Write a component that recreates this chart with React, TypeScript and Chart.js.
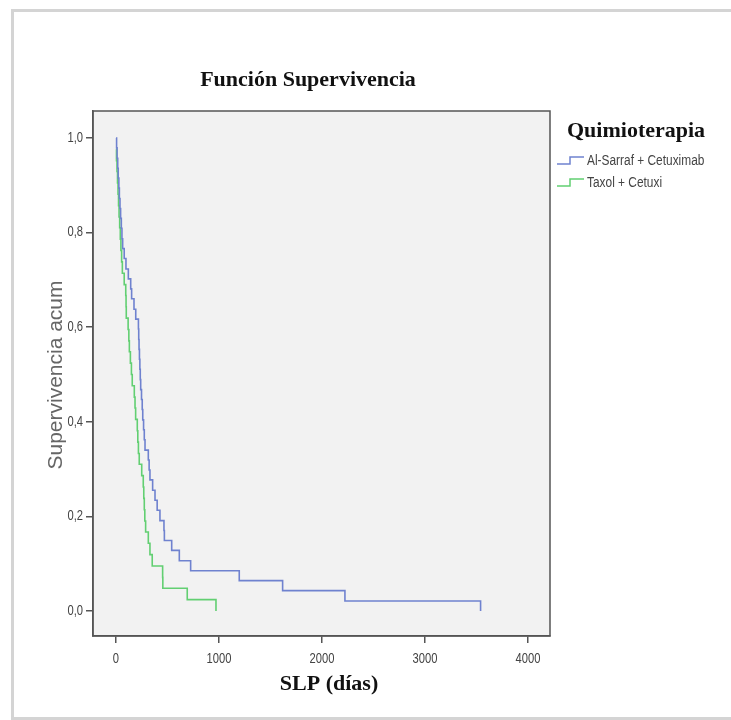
import React, { useEffect, useRef } from 'react';
import { Chart, registerables } from 'chart.js';

Chart.register(...registerables);

const chartTitle = 'Función Supervivencia';
const xTitle = 'SLP (días)';
const yTitle = 'Supervivencia acum';
const legendTitle = 'Quimioterapia';
const seriesNames = ['Al-Sarraf + Cetuximab', 'Taxol + Cetuxi'];
const seriesColors = ['#6f82cf', '#62cf72'];

const xTicks = [0, 1000, 2000, 3000, 4000];
const yTicks = [0, 0.2, 0.4, 0.6, 0.8, 1.0];

// Al-Sarraf + Cetuximab (time in days, cumulative survival after event)
const blueTimes = [0, 6, 11, 17, 22, 28, 33, 39, 45, 52, 58, 65, 80, 97, 120, 143, 152, 175, 192, 218, 221, 224, 228, 232, 236, 240, 248, 255, 260, 268, 275, 282, 314, 322, 330, 356, 379, 400, 427, 466, 470, 541, 615, 725, 1197, 1618, 2223, 3540];
const blueSurv = [1.0, 0.979, 0.957, 0.936, 0.915, 0.894, 0.872, 0.851, 0.83, 0.809, 0.787, 0.766, 0.745, 0.723, 0.702, 0.681, 0.66, 0.638, 0.617, 0.596, 0.574, 0.553, 0.532, 0.511, 0.489, 0.468, 0.447, 0.426, 0.404, 0.383, 0.362, 0.34, 0.319, 0.298, 0.277, 0.255, 0.234, 0.213, 0.191, 0.17, 0.149, 0.128, 0.106, 0.085, 0.064, 0.043, 0.021, 0.0];

// Taxol + Cetuxi
const greenTimes = [0, 5, 10, 15, 20, 25, 30, 36, 42, 48, 55, 62, 80, 95, 98, 100, 118, 125, 130, 140, 150, 158, 178, 185, 191, 207, 212, 218, 226, 250, 265, 270, 275, 280, 288, 314, 330, 352, 453, 455, 692, 971];
const greenSurv = [0.976, 0.952, 0.929, 0.905, 0.881, 0.857, 0.833, 0.81, 0.786, 0.762, 0.738, 0.714, 0.69, 0.667, 0.643, 0.619, 0.595, 0.571, 0.548, 0.524, 0.5, 0.476, 0.452, 0.429, 0.405, 0.381, 0.357, 0.333, 0.31, 0.286, 0.262, 0.238, 0.214, 0.19, 0.167, 0.143, 0.119, 0.095, 0.071, 0.048, 0.024, 0.0];

const SANS = "'Liberation Sans', Arial, sans-serif";
const SERIF = "'Liberation Serif', 'Times New Roman', serif";

function narrowText(ctx: any, text: string, x: number, y: number, sx: number, align: string) {
  ctx.save();
  ctx.translate(x, y);
  ctx.scale(sx, 1);
  ctx.textAlign = align;
  ctx.fillText(text, 0, 0);
  ctx.restore();
}

const decorPlugin = {
  id: 'decor',
  beforeDraw(chart: any) {
    const { ctx, chartArea: a, width, height } = chart;
    ctx.save();
    ctx.fillStyle = '#ffffff';
    ctx.fillRect(0, 0, width, height);
    // outer frame
    ctx.strokeStyle = '#d4d4d4';
    ctx.lineWidth = 3;
    ctx.beginPath();
    ctx.moveTo(width + 2, 10.5);
    ctx.lineTo(12.5, 10.5);
    ctx.lineTo(12.5, 718.5);
    ctx.lineTo(width + 2, 718.5);
    ctx.stroke();
    // plot background
    ctx.fillStyle = '#f2f2f2';
    ctx.fillRect(a.left, a.top, a.right - a.left, a.bottom - a.top);
    ctx.restore();
  },
  afterDraw(chart: any) {
    const { ctx, chartArea: a } = chart;
    ctx.save();
    // plot frame
    ctx.strokeStyle = '#555555';
    ctx.lineWidth = 1.5;
    ctx.strokeRect(a.left, a.top, a.right - a.left, a.bottom - a.top);

    // tick labels (condensed)
    ctx.fillStyle = '#444444';
    ctx.font = `14px ${SANS}`;
    ctx.textBaseline = 'middle';
    const xs = chart.scales.x;
    const ys = chart.scales.y;
    xTicks.forEach((v) => {
      narrowText(ctx, String(v), xs.getPixelForValue(v), 659, 0.8, 'center');
    });
    yTicks.forEach((v) => {
      narrowText(ctx, v.toFixed(1).replace('.', ','), 83, ys.getPixelForValue(v), 0.8, 'right');
    });

    // title
    ctx.fillStyle = '#111111';
    ctx.textAlign = 'center';
    ctx.textBaseline = 'middle';
    ctx.font = `bold 22px ${SERIF}`;
    ctx.fillText(chartTitle, 308, 80);

    // x title
    ctx.font = `bold 22px ${SERIF}`;
    ctx.fillText(xTitle, 329, 684);

    // y title
    ctx.save();
    ctx.translate(56, 375);
    ctx.rotate(-Math.PI / 2);
    ctx.fillStyle = '#666666';
    ctx.font = `21px ${SANS}`;
    ctx.fillText(yTitle, 0, 0);
    ctx.restore();

    // legend
    ctx.textAlign = 'left';
    ctx.fillStyle = '#111111';
    ctx.font = `bold 22px ${SERIF}`;
    ctx.fillText(legendTitle, 567, 131);
    const rows = [160, 182];
    seriesNames.forEach((name, i) => {
      const y = rows[i];
      ctx.strokeStyle = seriesColors[i];
      ctx.lineWidth = 1.5;
      ctx.beginPath();
      ctx.moveTo(557, y + 4);
      ctx.lineTo(570, y + 4);
      ctx.lineTo(570, y - 3);
      ctx.lineTo(584, y - 3);
      ctx.stroke();
      ctx.fillStyle = '#444444';
      ctx.font = `14px ${SANS}`;
      narrowText(ctx, name, 587, y + 1, 0.85, 'left');
    });
    ctx.restore();
  },
};

export default function App() {
  const ref = useRef<HTMLCanvasElement | null>(null);
  useEffect(() => {
    document.body.style.margin = '0';
    const canvas = ref.current;
    if (!canvas) return;
    const chart = new Chart(canvas, {
      type: 'line',
      data: {
        datasets: [
          {
            label: seriesNames[0],
            data: blueTimes.map((t, i) => ({ x: t, y: blueSurv[i] })),
            borderColor: seriesColors[0],
            borderWidth: 1.6,
            stepped: true,
            pointRadius: 0,
            fill: false,
          },
          {
            label: seriesNames[1],
            data: greenTimes.map((t, i) => ({ x: t, y: greenSurv[i] })),
            borderColor: seriesColors[1],
            borderWidth: 1.6,
            stepped: true,
            pointRadius: 0,
            fill: false,
          },
        ],
      },
      options: {
        animation: false,
        responsive: false,
        layout: { padding: { top: 111, right: 181, left: 0, bottom: 0 } },
        plugins: {
          legend: { display: false },
          title: { display: false },
          tooltip: { enabled: false },
        },
        scales: {
          x: {
            type: 'linear',
            min: -223,
            max: 4214,
            afterBuildTicks: (s: any) => {
              s.ticks = xTicks.map((v) => ({ value: v }));
            },
            afterFit: (s: any) => {
              s.height = 84;
            },
            grid: { drawOnChartArea: false, drawTicks: true, tickLength: 7, color: '#555555', lineWidth: 1.5 },
            border: { display: true, color: '#555555', width: 1.5 },
            ticks: { display: false, autoSkip: false },
          },
          y: {
            type: 'linear',
            min: -0.053,
            max: 1.057,
            afterBuildTicks: (s: any) => {
              s.ticks = yTicks.map((v) => ({ value: v }));
            },
            afterFit: (s: any) => {
              s.width = 93;
            },
            grid: { drawOnChartArea: false, drawTicks: true, tickLength: 7, color: '#555555', lineWidth: 1.5 },
            border: { display: true, color: '#555555', width: 1.5 },
            ticks: { display: false, autoSkip: false },
          },
        },
      },
      plugins: [decorPlugin],
    });
    return () => chart.destroy();
  }, []);
  return <canvas ref={ref} width={731} height={720} style={{ display: 'block' }} />;
}
